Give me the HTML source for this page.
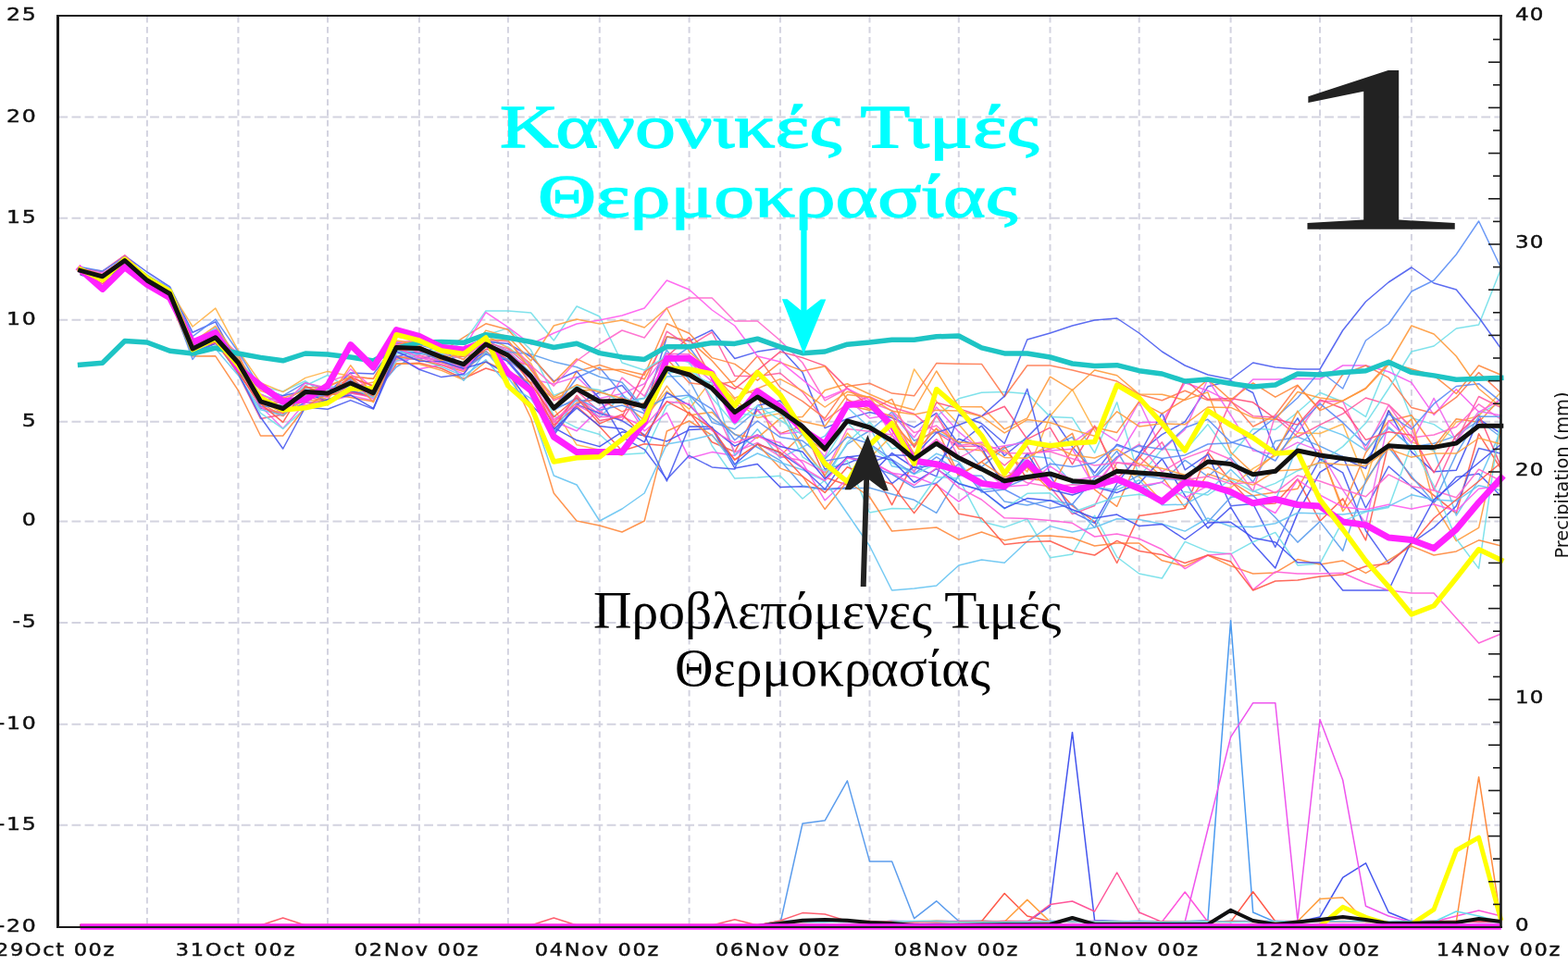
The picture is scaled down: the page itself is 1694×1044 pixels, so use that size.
<!DOCTYPE html>
<html><head><meta charset="utf-8"><title>GEFS ensemble</title>
<style>html,body{margin:0;padding:0;background:#fff;overflow:hidden}svg{display:block}</style>
</head><body>
<svg width="1694" height="1044" viewBox="0 0 1694 1044">
<rect width="1694" height="1044" fill="#fff"/>
<line x1="63.4" y1="126.6" x2="1620" y2="126.6" stroke="#d3d3e0" stroke-width="2" stroke-dasharray="9.8 4.3"/>
<line x1="63.4" y1="235.8" x2="1620" y2="235.8" stroke="#d3d3e0" stroke-width="2" stroke-dasharray="9.8 4.3"/>
<line x1="63.4" y1="345.7" x2="1620" y2="345.7" stroke="#d3d3e0" stroke-width="2" stroke-dasharray="9.8 4.3"/>
<line x1="63.4" y1="455.7" x2="1620" y2="455.7" stroke="#d3d3e0" stroke-width="2" stroke-dasharray="9.8 4.3"/>
<line x1="63.4" y1="563.4" x2="1620" y2="563.4" stroke="#d3d3e0" stroke-width="2" stroke-dasharray="9.8 4.3"/>
<line x1="63.4" y1="672.9" x2="1620" y2="672.9" stroke="#d3d3e0" stroke-width="2" stroke-dasharray="9.8 4.3"/>
<line x1="63.4" y1="782.8" x2="1620" y2="782.8" stroke="#d3d3e0" stroke-width="2" stroke-dasharray="9.8 4.3"/>
<line x1="63.4" y1="891.7" x2="1620" y2="891.7" stroke="#d3d3e0" stroke-width="2" stroke-dasharray="9.8 4.3"/>
<line x1="158.9" y1="17.7" x2="158.9" y2="1001" stroke="#d3d3e0" stroke-width="2" stroke-dasharray="6.8 4.4"/>
<line x1="257.4" y1="17.7" x2="257.4" y2="1001" stroke="#d3d3e0" stroke-width="2" stroke-dasharray="6.8 4.4"/>
<line x1="354.0" y1="17.7" x2="354.0" y2="1001" stroke="#d3d3e0" stroke-width="2" stroke-dasharray="6.8 4.4"/>
<line x1="452.9" y1="17.7" x2="452.9" y2="1001" stroke="#d3d3e0" stroke-width="2" stroke-dasharray="6.8 4.4"/>
<line x1="548.9" y1="17.7" x2="548.9" y2="1001" stroke="#d3d3e0" stroke-width="2" stroke-dasharray="6.8 4.4"/>
<line x1="647.8" y1="17.7" x2="647.8" y2="1001" stroke="#d3d3e0" stroke-width="2" stroke-dasharray="6.8 4.4"/>
<line x1="744.6" y1="17.7" x2="744.6" y2="1001" stroke="#d3d3e0" stroke-width="2" stroke-dasharray="6.8 4.4"/>
<line x1="842.9" y1="17.7" x2="842.9" y2="1001" stroke="#d3d3e0" stroke-width="2" stroke-dasharray="6.8 4.4"/>
<line x1="939.5" y1="17.7" x2="939.5" y2="1001" stroke="#d3d3e0" stroke-width="2" stroke-dasharray="6.8 4.4"/>
<line x1="1035.8" y1="17.7" x2="1035.8" y2="1001" stroke="#d3d3e0" stroke-width="2" stroke-dasharray="6.8 4.4"/>
<line x1="1134.5" y1="17.7" x2="1134.5" y2="1001" stroke="#d3d3e0" stroke-width="2" stroke-dasharray="6.8 4.4"/>
<line x1="1230.7" y1="17.7" x2="1230.7" y2="1001" stroke="#d3d3e0" stroke-width="2" stroke-dasharray="6.8 4.4"/>
<line x1="1329.6" y1="17.7" x2="1329.6" y2="1001" stroke="#d3d3e0" stroke-width="2" stroke-dasharray="6.8 4.4"/>
<line x1="1426.0" y1="17.7" x2="1426.0" y2="1001" stroke="#d3d3e0" stroke-width="2" stroke-dasharray="6.8 4.4"/>
<line x1="1524.9" y1="17.7" x2="1524.9" y2="1001" stroke="#d3d3e0" stroke-width="2" stroke-dasharray="6.8 4.4"/>
<polyline points="86.6,289.7 110.7,293.4 134.8,276.4 158.9,294.0 183.5,309.9 208.1,359.3 232.8,347.9 257.4,393.5 281.5,441.0 305.7,446.5 329.9,435.3 354.0,434.7 378.7,425.0 403.4,427.7 428.2,385.5 452.9,379.0 476.9,384.3 500.9,396.5 524.9,382.3 548.9,390.1 573.6,417.9 598.3,467.4 623.1,437.3 647.8,424.0 672.0,416.5 696.2,444.6 720.4,364.0 744.6,368.6 769.2,356.8 793.8,387.5 818.3,380.1 842.9,376.3 867.0,402.6 891.2,462.6 915.4,452.5 939.5,445.6 963.6,451.5 987.6,461.9 1011.7,446.5 1035.8,480.0 1060.5,460.2 1085.2,492.5 1109.8,472.4 1134.5,447.5 1158.5,482.9 1182.6,511.0 1206.7,480.2 1230.7,489.1 1255.4,469.6 1280.2,455.9 1304.9,417.8 1329.6,411.5 1353.7,424.5 1377.8,487.4 1401.9,451.8 1426.0,496.4 1450.7,493.3 1475.5,549.0 1500.2,504.0 1524.9,525.8 1549.1,543.2 1573.3,515.4 1597.6,511.9 1621.8,536.5" fill="none" stroke="#4a5cf0" stroke-width="1.5" stroke-linejoin="round" stroke-linecap="butt" stroke-opacity="0.9"/>
<polyline points="86.6,294.0 110.7,298.7 134.8,280.5 158.9,302.9 183.5,319.6 208.1,377.8 232.8,366.9 257.4,392.7 281.5,429.1 305.7,443.4 329.9,420.9 354.0,425.5 378.7,424.8 403.4,425.9 428.2,396.6 452.9,381.7 476.9,386.9 500.9,395.6 524.9,368.2 548.9,379.1 573.6,403.4 598.3,441.0 623.1,433.1 647.8,432.7 672.0,434.2 696.2,430.2 720.4,378.4 744.6,410.5 769.2,456.6 793.8,463.8 818.3,443.0 842.9,439.6 867.0,482.5 891.2,514.4 915.4,479.8 939.5,465.5 963.6,445.2 987.6,476.3 1011.7,466.7 1035.8,478.0 1060.5,504.7 1085.2,484.2 1109.8,475.0 1134.5,483.4 1158.5,472.4 1182.6,515.2 1206.7,487.5 1230.7,527.4 1255.4,521.0 1280.2,497.4 1304.9,515.0 1329.6,494.3 1353.7,521.0 1377.8,476.7 1401.9,472.1 1426.0,482.1 1450.7,493.7 1475.5,498.3 1500.2,462.4 1524.9,483.1 1549.1,479.2 1573.3,471.1 1597.6,454.5 1621.8,472.5" fill="none" stroke="#5c9ded" stroke-width="1.5" stroke-linejoin="round" stroke-linecap="butt" stroke-opacity="0.9"/>
<polyline points="86.6,291.7 110.7,296.3 134.8,281.7 158.9,304.0 183.5,318.8 208.1,371.7 232.8,361.7 257.4,387.5 281.5,417.8 305.7,423.0 329.9,411.8 354.0,428.4 378.7,415.1 403.4,418.4 428.2,374.6 452.9,368.3 476.9,376.6 500.9,379.5 524.9,366.8 548.9,374.9 573.6,395.4 598.3,449.6 623.1,462.3 647.8,469.5 672.0,491.2 696.2,489.8 720.4,438.4 744.6,428.1 769.2,481.7 793.8,517.1 818.3,516.0 842.9,514.3 867.0,539.0 891.2,519.0 915.4,478.3 939.5,456.1 963.6,484.9 987.6,480.2 1011.7,450.2 1035.8,430.8 1060.5,424.3 1085.2,423.6 1109.8,425.5 1134.5,450.4 1158.5,451.5 1182.6,489.4 1206.7,434.8 1230.7,515.6 1255.4,485.3 1280.2,487.2 1304.9,458.6 1329.6,492.7 1353.7,463.5 1377.8,464.2 1401.9,445.5 1426.0,424.3 1450.7,434.2 1475.5,450.4 1500.2,390.0 1524.9,451.7 1549.1,458.6 1573.3,475.0 1597.6,447.2 1621.8,434.9" fill="none" stroke="#72dfe9" stroke-width="1.5" stroke-linejoin="round" stroke-linecap="butt" stroke-opacity="0.9"/>
<polyline points="86.6,294.2 110.7,303.7 134.8,283.0 158.9,303.0 183.5,316.3 208.1,377.1 232.8,358.8 257.4,391.1 281.5,435.2 305.7,440.3 329.9,427.9 354.0,427.3 378.7,422.6 403.4,427.2 428.2,388.3 452.9,384.1 476.9,391.9 500.9,399.0 524.9,373.6 548.9,389.4 573.6,395.0 598.3,441.9 623.1,401.4 647.8,394.5 672.0,402.1 696.2,409.8 720.4,363.8 744.6,367.7 769.2,389.8 793.8,417.4 818.3,426.8 842.9,492.8 867.0,469.2 891.2,488.0 915.4,437.8 939.5,443.4 963.6,431.4 987.6,483.5 1011.7,449.4 1035.8,485.2 1060.5,486.8 1085.2,522.5 1109.8,491.5 1134.5,485.3 1158.5,468.4 1182.6,529.1 1206.7,547.3 1230.7,493.6 1255.4,515.1 1280.2,548.6 1304.9,512.1 1329.6,520.4 1353.7,535.7 1377.8,532.0 1401.9,528.2 1426.0,485.8 1450.7,549.0 1475.5,489.2 1500.2,455.0 1524.9,448.7 1549.1,483.3 1573.3,452.8 1597.6,456.2 1621.8,429.9" fill="none" stroke="#ff8a3d" stroke-width="1.5" stroke-linejoin="round" stroke-linecap="butt" stroke-opacity="0.9"/>
<polyline points="86.6,290.4 110.7,296.9 134.8,280.8 158.9,304.0 183.5,313.6 208.1,353.0 232.8,333.1 257.4,378.9 281.5,413.8 305.7,423.6 329.9,408.4 354.0,401.4 378.7,406.6 403.4,409.4 428.2,364.1 452.9,367.7 476.9,368.4 500.9,371.9 524.9,362.2 548.9,376.1 573.6,392.6 598.3,441.4 623.1,480.8 647.8,486.2 672.0,492.2 696.2,451.5 720.4,422.9 744.6,442.1 769.2,410.3 793.8,431.8 818.3,451.5 842.9,446.8 867.0,484.1 891.2,513.6 915.4,468.1 939.5,495.1 963.6,470.6 987.6,398.9 1011.7,433.7 1035.8,458.4 1060.5,487.4 1085.2,486.9 1109.8,509.9 1134.5,449.7 1158.5,421.0 1182.6,465.3 1206.7,507.3 1230.7,515.1 1255.4,542.0 1280.2,515.1 1304.9,525.6 1329.6,527.3 1353.7,506.4 1377.8,492.4 1401.9,467.7 1426.0,468.5 1450.7,458.2 1475.5,519.6 1500.2,443.4 1524.9,477.4 1549.1,487.5 1573.3,456.1 1597.6,449.5 1621.8,423.4" fill="none" stroke="#ffb347" stroke-width="1.5" stroke-linejoin="round" stroke-linecap="butt" stroke-opacity="0.9"/>
<polyline points="86.6,293.7 110.7,306.6 134.8,288.0 158.9,306.2 183.5,320.7 208.1,379.3 232.8,368.7 257.4,401.0 281.5,439.8 305.7,449.6 329.9,426.4 354.0,424.7 378.7,407.5 403.4,428.1 428.2,393.6 452.9,392.2 476.9,398.2 500.9,409.1 524.9,398.0 548.9,405.3 573.6,418.0 598.3,459.2 623.1,439.3 647.8,460.9 672.0,487.3 696.2,479.7 720.4,481.8 744.6,445.5 769.2,477.8 793.8,488.3 818.3,443.0 842.9,468.6 867.0,460.1 891.2,515.7 915.4,524.2 939.5,501.3 963.6,545.7 987.6,498.5 1011.7,474.7 1035.8,514.3 1060.5,498.9 1085.2,482.4 1109.8,517.6 1134.5,519.7 1158.5,546.7 1182.6,564.0 1206.7,608.5 1230.7,557.4 1255.4,554.0 1280.2,549.5 1304.9,488.8 1329.6,520.1 1353.7,545.5 1377.8,544.0 1401.9,517.8 1426.0,563.2 1450.7,538.9 1475.5,583.9 1500.2,479.0 1524.9,516.7 1549.1,535.3 1573.3,554.8 1597.6,468.8 1621.8,507.0" fill="none" stroke="#ff5a4a" stroke-width="1.5" stroke-linejoin="round" stroke-linecap="butt" stroke-opacity="0.9"/>
<polyline points="86.6,290.2 110.7,293.1 134.8,275.9 158.9,299.2 183.5,313.3 208.1,372.0 232.8,360.4 257.4,395.5 281.5,434.3 305.7,435.4 329.9,427.0 354.0,427.5 378.7,411.6 403.4,421.8 428.2,373.7 452.9,379.4 476.9,390.2 500.9,384.3 524.9,369.7 548.9,376.9 573.6,398.0 598.3,432.8 623.1,422.3 647.8,445.0 672.0,454.2 696.2,417.5 720.4,358.2 744.6,374.1 769.2,359.0 793.8,406.3 818.3,406.7 842.9,403.3 867.0,423.6 891.2,454.6 915.4,436.5 939.5,428.8 963.6,440.2 987.6,447.3 1011.7,467.3 1035.8,482.6 1060.5,482.0 1085.2,503.0 1109.8,482.3 1134.5,526.3 1158.5,555.6 1182.6,546.5 1206.7,500.0 1230.7,503.4 1255.4,477.8 1280.2,523.5 1304.9,489.6 1329.6,433.9 1353.7,449.7 1377.8,451.1 1401.9,472.0 1426.0,459.2 1450.7,447.1 1475.5,430.0 1500.2,437.4 1524.9,461.9 1549.1,529.8 1573.3,476.3 1597.6,428.5 1621.8,440.7" fill="none" stroke="#ff5aa0" stroke-width="1.5" stroke-linejoin="round" stroke-linecap="butt" stroke-opacity="0.9"/>
<polyline points="86.6,291.0 110.7,295.1 134.8,281.0 158.9,300.8 183.5,317.5 208.1,373.9 232.8,365.1 257.4,385.7 281.5,426.8 305.7,443.9 329.9,428.4 354.0,427.2 378.7,421.8 403.4,431.0 428.2,384.3 452.9,398.7 476.9,394.3 500.9,404.2 524.9,373.4 548.9,384.3 573.6,396.3 598.3,455.2 623.1,465.8 647.8,441.5 672.0,429.0 696.2,465.8 720.4,446.2 744.6,495.3 769.2,488.6 793.8,492.4 818.3,471.8 842.9,478.5 867.0,500.1 891.2,540.8 915.4,517.7 939.5,497.5 963.6,511.3 987.6,514.9 1011.7,524.2 1035.8,542.1 1060.5,523.8 1085.2,520.4 1109.8,490.5 1134.5,487.1 1158.5,485.3 1182.6,526.7 1206.7,495.7 1230.7,456.7 1255.4,456.1 1280.2,413.7 1304.9,422.2 1329.6,434.4 1353.7,410.0 1377.8,410.0 1401.9,409.3 1426.0,409.5 1450.7,395.0 1475.5,395.0 1500.2,401.7 1524.9,413.4 1549.1,448.4 1573.3,420.7 1597.6,445.3 1621.8,431.5" fill="none" stroke="#f55af0" stroke-width="1.5" stroke-linejoin="round" stroke-linecap="butt" stroke-opacity="0.9"/>
<polyline points="86.6,290.4 110.7,299.9 134.8,285.2 158.9,307.1 183.5,323.5 208.1,380.7 232.8,369.9 257.4,400.7 281.5,430.5 305.7,443.4 329.9,425.0 354.0,433.5 378.7,422.8 403.4,428.8 428.2,386.2 452.9,388.6 476.9,382.3 500.9,395.8 524.9,379.3 548.9,403.0 573.6,437.2 598.3,462.2 623.1,475.8 647.8,482.6 672.0,466.8 696.2,470.8 720.4,476.9 744.6,464.6 769.2,463.2 793.8,506.0 818.3,501.4 842.9,526.6 867.0,525.8 891.2,528.7 915.4,527.1 939.5,514.2 963.6,489.6 987.6,505.5 1011.7,502.8 1035.8,474.3 1060.5,483.8 1085.2,526.3 1109.8,489.8 1134.5,529.1 1158.5,535.0 1182.6,526.3 1206.7,532.4 1230.7,522.4 1255.4,495.9 1280.2,535.7 1304.9,570.9 1329.6,548.2 1353.7,587.4 1377.8,613.9 1401.9,554.9 1426.0,510.4 1450.7,495.1 1475.5,506.4 1500.2,443.9 1524.9,488.4 1549.1,509.8 1573.3,508.3 1597.6,452.9 1621.8,468.7" fill="none" stroke="#3f4ff0" stroke-width="1.5" stroke-linejoin="round" stroke-linecap="butt" stroke-opacity="0.9"/>
<polyline points="86.6,292.4 110.7,298.6 134.8,279.4 158.9,296.8 183.5,312.9 208.1,371.7 232.8,354.2 257.4,386.3 281.5,435.8 305.7,434.0 329.9,418.8 354.0,425.5 378.7,418.0 403.4,421.2 428.2,376.7 452.9,388.3 476.9,396.4 500.9,406.4 524.9,388.9 548.9,416.0 573.6,430.7 598.3,465.8 623.1,430.7 647.8,451.2 672.0,427.1 696.2,442.7 720.4,406.9 744.6,406.3 769.2,413.9 793.8,492.1 818.3,463.8 842.9,495.2 867.0,483.1 891.2,471.2 915.4,440.2 939.5,462.0 963.6,503.8 987.6,508.3 1011.7,490.2 1035.8,499.3 1060.5,529.1 1085.2,527.3 1109.8,492.6 1134.5,495.3 1158.5,522.6 1182.6,526.7 1206.7,529.5 1230.7,518.7 1255.4,545.7 1280.2,545.2 1304.9,531.7 1329.6,507.4 1353.7,530.2 1377.8,540.9 1401.9,481.9 1426.0,461.0 1450.7,470.1 1475.5,486.7 1500.2,461.3 1524.9,483.2 1549.1,486.2 1573.3,557.0 1597.6,519.1 1621.8,465.1" fill="none" stroke="#66c4f2" stroke-width="1.5" stroke-linejoin="round" stroke-linecap="butt" stroke-opacity="0.9"/>
<polyline points="86.6,291.6 110.7,299.4 134.8,283.7 158.9,302.8 183.5,320.2 208.1,378.8 232.8,365.4 257.4,394.9 281.5,433.9 305.7,434.7 329.9,419.1 354.0,418.1 378.7,406.9 403.4,409.2 428.2,369.9 452.9,374.5 476.9,383.9 500.9,385.4 524.9,379.9 548.9,399.8 573.6,425.8 598.3,456.3 623.1,435.2 647.8,430.9 672.0,444.9 696.2,435.3 720.4,387.8 744.6,413.7 769.2,416.8 793.8,411.9 818.3,384.7 842.9,418.9 867.0,433.6 891.2,452.1 915.4,417.6 939.5,414.3 963.6,425.1 987.6,427.8 1011.7,392.6 1035.8,393.2 1060.5,393.4 1085.2,428.7 1109.8,395.0 1134.5,395.0 1158.5,400.0 1182.6,405.9 1206.7,412.1 1230.7,426.3 1255.4,432.7 1280.2,422.2 1304.9,432.6 1329.6,433.1 1353.7,461.0 1377.8,448.8 1401.9,416.8 1426.0,442.4 1450.7,404.7 1475.5,395.0 1500.2,408.2 1524.9,440.6 1549.1,446.8 1573.3,429.4 1597.6,402.6 1621.8,425.0" fill="none" stroke="#ff7a50" stroke-width="1.5" stroke-linejoin="round" stroke-linecap="butt" stroke-opacity="0.9"/>
<polyline points="86.6,291.7 110.7,297.1 134.8,280.0 158.9,301.6 183.5,315.7 208.1,370.1 232.8,359.8 257.4,394.5 281.5,440.2 305.7,446.7 329.9,437.9 354.0,432.9 378.7,424.8 403.4,429.4 428.2,387.0 452.9,383.8 476.9,390.7 500.9,397.3 524.9,372.3 548.9,379.1 573.6,407.5 598.3,456.4 623.1,429.7 647.8,447.8 672.0,408.1 696.2,428.1 720.4,382.2 744.6,382.8 769.2,434.9 793.8,488.9 818.3,478.4 842.9,493.4 867.0,497.7 891.2,510.6 915.4,463.4 939.5,466.2 963.6,469.9 987.6,510.7 1011.7,447.3 1035.8,494.8 1060.5,482.3 1085.2,507.9 1109.8,521.8 1134.5,525.9 1158.5,523.8 1182.6,524.9 1206.7,494.9 1230.7,480.1 1255.4,509.8 1280.2,495.1 1304.9,486.0 1329.6,496.5 1353.7,531.4 1377.8,448.1 1401.9,467.3 1426.0,433.5 1450.7,433.7 1475.5,485.9 1500.2,437.8 1524.9,473.0 1549.1,470.0 1573.3,461.2 1597.6,436.8 1621.8,453.3" fill="none" stroke="#ff66cc" stroke-width="1.5" stroke-linejoin="round" stroke-linecap="butt" stroke-opacity="0.9"/>
<polyline points="86.6,290.7 110.7,296.7 134.8,279.6 158.9,302.3 183.5,319.5 208.1,379.1 232.8,366.9 257.4,397.3 281.5,439.0 305.7,463.0 329.9,435.3 354.0,434.0 378.7,427.6 403.4,433.0 428.2,390.2 452.9,386.3 476.9,389.5 500.9,399.0 524.9,374.0 548.9,382.6 573.6,409.7 598.3,414.9 623.1,407.3 647.8,430.6 672.0,425.4 696.2,414.7 720.4,381.7 744.6,391.5 769.2,412.1 793.8,437.8 818.3,443.6 842.9,468.9 867.0,466.7 891.2,493.5 915.4,431.2 939.5,451.9 963.6,448.1 987.6,472.8 1011.7,440.0 1035.8,466.7 1060.5,486.8 1085.2,481.8 1109.8,478.0 1134.5,485.0 1158.5,478.6 1182.6,461.3 1206.7,476.8 1230.7,434.2 1255.4,486.4 1280.2,464.1 1304.9,410.0 1329.6,448.7 1353.7,487.0 1377.8,491.2 1401.9,478.1 1426.0,487.4 1450.7,529.3 1475.5,565.8 1500.2,454.6 1524.9,478.7 1549.1,430.4 1573.3,476.9 1597.6,444.6 1621.8,449.1" fill="none" stroke="#ee66ee" stroke-width="1.5" stroke-linejoin="round" stroke-linecap="butt" stroke-opacity="0.9"/>
<polyline points="86.6,292.9 110.7,299.7 134.8,284.5 158.9,305.6 183.5,321.9 208.1,381.3 232.8,364.7 257.4,392.6 281.5,433.7 305.7,446.3 329.9,432.2 354.0,434.0 378.7,418.5 403.4,412.9 428.2,392.7 452.9,393.5 476.9,400.4 500.9,410.5 524.9,391.0 548.9,402.0 573.6,413.2 598.3,430.7 623.1,421.7 647.8,421.8 672.0,434.4 696.2,454.4 720.4,417.1 744.6,448.8 769.2,445.4 793.8,469.8 818.3,473.4 842.9,452.1 867.0,450.4 891.2,421.7 915.4,414.7 939.5,426.0 963.6,436.5 987.6,443.0 1011.7,401.0 1035.8,439.5 1060.5,439.7 1085.2,463.9 1109.8,451.9 1134.5,407.2 1158.5,421.7 1182.6,400.0 1206.7,405.7 1230.7,426.1 1255.4,426.3 1280.2,432.4 1304.9,423.9 1329.6,488.7 1353.7,511.3 1377.8,490.4 1401.9,444.1 1426.0,484.4 1450.7,552.6 1475.5,521.7 1500.2,478.4 1524.9,452.8 1549.1,544.1 1573.3,584.6 1597.6,570.4 1621.8,461.6" fill="none" stroke="#ff9a3c" stroke-width="1.5" stroke-linejoin="round" stroke-linecap="butt" stroke-opacity="0.9"/>
<polyline points="86.6,288.4 110.7,292.9 134.8,277.8 158.9,297.8 183.5,310.7 208.1,363.6 232.8,345.1 257.4,380.4 281.5,419.3 305.7,427.7 329.9,413.6 354.0,420.8 378.7,414.0 403.4,422.1 428.2,371.2 452.9,372.6 476.9,379.6 500.9,383.1 524.9,371.4 548.9,382.8 573.6,403.8 598.3,442.5 623.1,408.3 647.8,397.2 672.0,425.7 696.2,461.7 720.4,391.6 744.6,375.2 769.2,408.1 793.8,444.5 818.3,428.3 842.9,446.5 867.0,462.7 891.2,498.2 915.4,493.8 939.5,503.8 963.6,512.5 987.6,526.8 1011.7,522.1 1035.8,501.1 1060.5,532.0 1085.2,529.0 1109.8,541.8 1134.5,549.4 1158.5,545.1 1182.6,516.6 1206.7,493.6 1230.7,481.7 1255.4,485.4 1280.2,462.3 1304.9,453.2 1329.6,477.7 1353.7,484.8 1377.8,498.0 1401.9,460.0 1426.0,436.2 1450.7,456.7 1475.5,481.4 1500.2,447.5 1524.9,464.0 1549.1,436.4 1573.3,417.5 1597.6,414.7 1621.8,434.4" fill="none" stroke="#5a8af5" stroke-width="1.5" stroke-linejoin="round" stroke-linecap="butt" stroke-opacity="0.9"/>
<polyline points="86.6,291.1 110.7,298.2 134.8,280.7 158.9,306.7 183.5,322.9 208.1,379.8 232.8,367.5 257.4,404.5 281.5,452.5 305.7,447.9 329.9,429.1 354.0,433.6 378.7,423.9 403.4,428.8 428.2,373.9 452.9,381.3 476.9,388.9 500.9,395.7 524.9,371.0 548.9,389.2 573.6,407.8 598.3,462.0 623.1,427.2 647.8,454.6 672.0,450.5 696.2,401.8 720.4,385.3 744.6,364.5 769.2,408.7 793.8,420.3 818.3,400.3 842.9,380.1 867.0,386.6 891.2,395.4 915.4,419.6 939.5,439.0 963.6,455.0 987.6,482.7 1011.7,435.1 1035.8,441.6 1060.5,449.6 1085.2,439.3 1109.8,474.6 1134.5,462.1 1158.5,501.9 1182.6,460.1 1206.7,517.0 1230.7,495.2 1255.4,461.5 1280.2,410.0 1304.9,431.6 1329.6,430.4 1353.7,434.8 1377.8,452.7 1401.9,459.1 1426.0,431.9 1450.7,441.5 1475.5,475.4 1500.2,466.7 1524.9,470.2 1549.1,510.9 1573.3,470.4 1597.6,448.0 1621.8,504.6" fill="none" stroke="#ff4f7a" stroke-width="1.5" stroke-linejoin="round" stroke-linecap="butt" stroke-opacity="0.9"/>
<polyline points="86.6,291.8 110.7,297.8 134.8,282.3 158.9,303.8 183.5,321.6 208.1,379.9 232.8,367.8 257.4,393.4 281.5,435.1 305.7,427.8 329.9,422.3 354.0,424.4 378.7,402.9 403.4,404.1 428.2,371.0 452.9,373.8 476.9,386.1 500.9,393.9 524.9,369.2 548.9,371.5 573.6,385.5 598.3,412.0 623.1,401.3 647.8,431.0 672.0,472.3 696.2,485.8 720.4,518.1 744.6,492.3 769.2,504.9 793.8,507.1 818.3,438.2 842.9,433.1 867.0,458.5 891.2,507.1 915.4,501.0 939.5,490.5 963.6,522.6 987.6,504.3 1011.7,514.9 1035.8,448.3 1060.5,457.8 1085.2,479.2 1109.8,420.4 1134.5,514.2 1158.5,553.3 1182.6,565.3 1206.7,522.4 1230.7,491.5 1255.4,446.3 1280.2,507.8 1304.9,491.1 1329.6,546.8 1353.7,544.4 1377.8,591.3 1401.9,539.2 1426.0,496.4 1450.7,510.9 1475.5,573.5 1500.2,608.6 1524.9,587.1 1549.1,570.1 1573.3,546.9 1597.6,484.5 1621.8,490.2" fill="none" stroke="#4a5cf0" stroke-width="1.5" stroke-linejoin="round" stroke-linecap="butt" stroke-opacity="0.9"/>
<polyline points="86.6,292.2 110.7,299.3 134.8,281.9 158.9,303.5 183.5,319.0 208.1,377.9 232.8,366.0 257.4,394.5 281.5,435.3 305.7,438.2 329.9,422.8 354.0,432.3 378.7,422.3 403.4,419.6 428.2,369.7 452.9,380.0 476.9,389.6 500.9,394.9 524.9,374.9 548.9,380.3 573.6,382.8 598.3,390.9 623.1,396.7 647.8,407.3 672.0,413.2 696.2,442.0 720.4,429.5 744.6,427.1 769.2,451.8 793.8,469.1 818.3,483.5 842.9,497.6 867.0,525.0 891.2,529.1 915.4,528.1 939.5,527.2 963.6,534.0 987.6,540.3 1011.7,554.4 1035.8,513.5 1060.5,514.3 1085.2,542.0 1109.8,546.1 1134.5,540.8 1158.5,544.8 1182.6,570.3 1206.7,526.4 1230.7,513.6 1255.4,517.2 1280.2,519.2 1304.9,564.3 1329.6,537.2 1353.7,535.4 1377.8,559.3 1401.9,586.1 1426.0,563.6 1450.7,595.3 1475.5,519.2 1500.2,483.5 1524.9,514.8 1549.1,542.9 1573.3,490.9 1597.6,450.1 1621.8,450.3" fill="none" stroke="#5c9ded" stroke-width="1.5" stroke-linejoin="round" stroke-linecap="butt" stroke-opacity="0.9"/>
<polyline points="86.6,293.5 110.7,299.2 134.8,280.3 158.9,302.2 183.5,318.9 208.1,379.7 232.8,369.2 257.4,403.8 281.5,446.4 305.7,463.4 329.9,440.8 354.0,433.0 378.7,418.2 403.4,429.7 428.2,390.1 452.9,382.3 476.9,381.9 500.9,387.9 524.9,362.1 548.9,354.6 573.6,378.3 598.3,427.4 623.1,417.5 647.8,421.5 672.0,435.5 696.2,430.8 720.4,403.3 744.6,400.0 769.2,416.9 793.8,446.8 818.3,449.0 842.9,443.3 867.0,493.8 891.2,508.9 915.4,497.7 939.5,554.1 963.6,549.5 987.6,550.0 1011.7,515.5 1035.8,517.1 1060.5,563.7 1085.2,569.9 1109.8,561.0 1134.5,602.7 1158.5,599.0 1182.6,557.2 1206.7,602.0 1230.7,620.0 1255.4,625.0 1280.2,585.4 1304.9,595.9 1329.6,598.8 1353.7,585.7 1377.8,575.4 1401.9,610.9 1426.0,609.1 1450.7,563.1 1475.5,553.2 1500.2,548.6 1524.9,480.6 1549.1,525.0 1573.3,582.2 1597.6,614.4 1621.8,448.1" fill="none" stroke="#72dfe9" stroke-width="1.5" stroke-linejoin="round" stroke-linecap="butt" stroke-opacity="0.9"/>
<polyline points="86.6,293.4 110.7,298.7 134.8,285.4 158.9,304.1 183.5,318.7 208.1,379.1 232.8,367.1 257.4,396.6 281.5,435.8 305.7,449.3 329.9,427.0 354.0,428.4 378.7,418.4 403.4,422.6 428.2,372.6 452.9,367.6 476.9,380.1 500.9,364.6 524.9,349.8 548.9,356.2 573.6,384.1 598.3,413.2 623.1,387.9 647.8,399.6 672.0,399.6 696.2,405.2 720.4,349.7 744.6,360.3 769.2,386.6 793.8,393.4 818.3,411.2 842.9,391.6 867.0,400.9 891.2,395.8 915.4,432.0 939.5,442.0 963.6,449.9 987.6,490.4 1011.7,462.7 1035.8,513.1 1060.5,499.3 1085.2,516.0 1109.8,505.2 1134.5,529.8 1158.5,485.1 1182.6,461.7 1206.7,467.4 1230.7,433.9 1255.4,447.1 1280.2,431.6 1304.9,410.1 1329.6,432.2 1353.7,413.9 1377.8,429.2 1401.9,416.2 1426.0,443.6 1450.7,433.1 1475.5,419.5 1500.2,392.0 1524.9,398.7 1549.1,405.8 1573.3,425.5 1597.6,395.0 1621.8,405.3" fill="none" stroke="#ff8a3d" stroke-width="1.5" stroke-linejoin="round" stroke-linecap="butt" stroke-opacity="0.9"/>
<polyline points="86.6,292.0 110.7,298.1 134.8,280.5 158.9,301.6 183.5,315.8 208.1,381.1 232.8,363.1 257.4,389.7 281.5,426.1 305.7,434.8 329.9,416.8 354.0,405.5 378.7,420.9 403.4,424.2 428.2,382.8 452.9,378.2 476.9,380.0 500.9,370.0 524.9,336.0 548.9,336.0 573.6,338.0 598.3,368.0 623.1,331.0 647.8,342.0 672.0,392.0 696.2,400.0 720.4,384.6 744.6,391.8 769.2,430.0 793.8,458.7 818.3,438.4 842.9,454.1 867.0,470.0 891.2,495.7 915.4,456.7 939.5,480.8 963.6,500.0 987.6,512.6 1011.7,501.5 1035.8,522.2 1060.5,530.0 1085.2,549.9 1109.8,533.3 1134.5,532.8 1158.5,553.7 1182.6,545.0 1206.7,537.0 1230.7,534.3 1255.4,539.7 1280.2,531.4 1304.9,535.0 1329.6,518.4 1353.7,531.3 1377.8,522.4 1401.9,508.7 1426.0,500.0 1450.7,482.6 1475.5,457.3 1500.2,420.0 1524.9,380.0 1549.1,374.0 1573.3,355.0 1597.6,351.0 1621.8,290.0" fill="none" stroke="#72dfe9" stroke-width="1.5" stroke-linejoin="round" stroke-linecap="butt" stroke-opacity="0.9"/>
<polyline points="86.6,290.0 110.7,296.3 134.8,278.7 158.9,300.0 183.5,314.3 208.1,372.3 232.8,360.8 257.4,381.9 281.5,435.9 305.7,440.2 329.9,423.0 354.0,429.9 378.7,398.9 403.4,419.4 428.2,370.0 452.9,367.9 476.9,372.4 500.9,376.2 524.9,337.6 548.9,353.6 573.6,372.0 598.3,360.0 623.1,350.0 647.8,346.0 672.0,341.0 696.2,333.0 720.4,303.0 744.6,313.0 769.2,335.0 793.8,352.0 818.3,385.0 842.9,390.9 867.0,410.4 891.2,430.0 915.4,419.9 939.5,432.0 963.6,470.0 987.6,495.1 1011.7,474.9 1035.8,493.2 1060.5,505.0 1085.2,526.1 1109.8,524.3 1134.5,503.9 1158.5,519.6 1182.6,515.0 1206.7,514.1 1230.7,525.3 1255.4,521.3 1280.2,538.2 1304.9,525.0 1329.6,529.8 1353.7,541.6 1377.8,554.5 1401.9,518.4 1426.0,535.0 1450.7,547.9 1475.5,550.7 1500.2,545.3 1524.9,550.1 1549.1,545.0 1573.3,552.3 1597.6,528.3 1621.8,525.0" fill="none" stroke="#ff5cf0" stroke-width="1.5" stroke-linejoin="round" stroke-linecap="butt" stroke-opacity="0.9"/>
<polyline points="86.6,293.0 110.7,299.2 134.8,281.6 158.9,302.8 183.5,317.0 208.1,368.6 232.8,361.6 257.4,392.1 281.5,433.1 305.7,429.0 329.9,434.9 354.0,412.7 378.7,404.1 403.4,424.1 428.2,372.0 452.9,380.7 476.9,380.9 500.9,388.2 524.9,367.4 548.9,369.1 573.6,395.0 598.3,417.1 623.1,390.0 647.8,372.0 672.0,357.0 696.2,365.0 720.4,333.0 744.6,322.0 769.2,322.0 793.8,347.0 818.3,347.0 842.9,368.0 867.0,392.0 891.2,432.9 915.4,420.0 939.5,434.8 963.6,443.6 987.6,467.6 1011.7,460.0 1035.8,481.6 1060.5,478.0 1085.2,489.5 1109.8,490.0 1134.5,488.0 1158.5,495.7 1182.6,503.0 1206.7,500.0 1230.7,501.3 1255.4,516.0 1280.2,518.4 1304.9,515.0 1329.6,522.9 1353.7,521.3 1377.8,532.7 1401.9,513.9 1426.0,520.0 1450.7,528.7 1475.5,536.8 1500.2,512.9 1524.9,525.4 1549.1,530.0 1573.3,537.7 1597.6,507.2 1621.8,520.0" fill="none" stroke="#ff66cc" stroke-width="1.5" stroke-linejoin="round" stroke-linecap="butt" stroke-opacity="0.9"/>
<polyline points="86.6,291.0 110.7,297.1 134.8,279.3 158.9,300.4 183.5,314.4 208.1,369.8 232.8,352.4 257.4,387.4 281.5,422.4 305.7,430.1 329.9,422.2 354.0,432.3 378.7,394.8 403.4,427.5 428.2,368.0 452.9,371.4 476.9,377.4 500.9,388.9 524.9,357.1 548.9,363.8 573.6,390.0 598.3,352.0 623.1,345.0 647.8,350.0 672.0,346.0 696.2,354.0 720.4,333.0 744.6,380.0 769.2,402.0 793.8,430.3 818.3,420.0 842.9,409.6 867.0,422.4 891.2,440.0 915.4,423.3 939.5,429.4 963.6,460.0 987.6,480.2 1011.7,463.6 1035.8,477.8 1060.5,480.0 1085.2,494.4 1109.8,495.2 1134.5,480.2 1158.5,491.7 1182.6,495.0 1206.7,485.4 1230.7,501.8 1255.4,506.3 1280.2,513.2 1304.9,505.0 1329.6,517.0 1353.7,524.1 1377.8,508.9 1401.9,507.6 1426.0,500.0 1450.7,502.2 1475.5,503.4 1500.2,485.3 1524.9,494.1 1549.1,490.0 1573.3,490.1 1597.6,473.5 1621.8,480.0" fill="none" stroke="#ffa040" stroke-width="1.5" stroke-linejoin="round" stroke-linecap="butt" stroke-opacity="0.9"/>
<polyline points="86.6,296.0 110.7,303.4 134.8,286.9 158.9,309.3 183.5,324.6 208.1,385.0 232.8,384.8 257.4,422.0 281.5,471.0 305.7,471.0 329.9,440.0 354.0,424.9 378.7,429.5 403.4,434.0 428.2,385.0 452.9,389.0 476.9,394.6 500.9,401.5 524.9,380.5 548.9,400.0 573.6,452.0 598.3,533.0 623.1,563.0 647.8,568.0 672.0,575.0 696.2,563.0 720.4,466.0 744.6,455.0 769.2,470.5 793.8,496.5 818.3,480.0 842.9,506.1 867.0,514.6 891.2,550.3 915.4,520.0 939.5,537.0 963.6,574.0 987.6,572.0 1011.7,570.0 1035.8,583.1 1060.5,575.0 1085.2,583.9 1109.8,579.6 1134.5,579.0 1158.5,581.3 1182.6,590.0 1206.7,586.9 1230.7,587.1 1255.4,605.8 1280.2,611.9 1304.9,600.0 1329.6,611.6 1353.7,620.0 1377.8,618.9 1401.9,604.6 1426.0,610.0 1450.7,605.9 1475.5,619.4 1500.2,605.3 1524.9,590.1 1549.1,600.0 1573.3,595.9 1597.6,583.8 1621.8,590.0" fill="none" stroke="#ff8a3d" stroke-width="1.5" stroke-linejoin="round" stroke-linecap="butt" stroke-opacity="0.9"/>
<polyline points="86.6,294.0 110.7,300.7 134.8,283.6 158.9,305.3 183.5,320.0 208.1,383.3 232.8,376.7 257.4,405.7 281.5,442.8 305.7,448.8 329.9,427.9 354.0,417.6 378.7,420.4 403.4,421.7 428.2,380.0 452.9,382.4 476.9,382.6 500.9,411.3 524.9,380.0 548.9,407.8 573.6,442.0 598.3,514.0 623.1,524.0 647.8,563.0 672.0,550.0 696.2,533.0 720.4,480.0 744.6,475.8 769.2,470.0 793.8,502.6 818.3,490.0 842.9,499.8 867.0,507.7 891.2,520.0 915.4,555.0 939.5,590.0 963.6,638.0 987.6,636.0 1011.7,633.0 1035.8,611.0 1060.5,605.0 1085.2,608.2 1109.8,585.0 1134.5,568.6 1158.5,575.0 1182.6,570.0 1206.7,560.7 1230.7,561.6 1255.4,566.2 1280.2,574.1 1304.9,560.0 1329.6,569.0 1353.7,569.4 1377.8,565.7 1401.9,554.3 1426.0,555.0 1450.7,556.0 1475.5,552.4 1500.2,547.2 1524.9,534.8 1549.1,540.0 1573.3,541.5 1597.6,524.7 1621.8,530.0" fill="none" stroke="#66c4f2" stroke-width="1.5" stroke-linejoin="round" stroke-linecap="butt" stroke-opacity="0.9"/>
<polyline points="86.6,296.0 110.7,301.1 134.8,282.4 158.9,302.4 183.5,315.5 208.1,372.5 232.8,360.0 257.4,403.3 281.5,450.7 305.7,485.0 329.9,440.0 354.0,442.2 378.7,432.6 403.4,442.1 428.2,385.0 452.9,399.3 476.9,407.6 500.9,404.3 524.9,372.1 548.9,391.5 573.6,420.0 598.3,470.3 623.1,437.3 647.8,446.6 672.0,454.7 696.2,470.0 720.4,520.0 744.6,461.0 769.2,461.4 793.8,501.9 818.3,480.0 842.9,489.3 867.0,505.6 891.2,528.8 915.4,493.4 939.5,500.0 963.6,491.8 987.6,492.4 1011.7,467.7 1035.8,459.2 1060.5,450.0 1085.2,428.1 1109.8,367.0 1134.5,360.0 1158.5,352.0 1182.6,346.0 1206.7,344.0 1230.7,360.0 1255.4,380.0 1280.2,395.0 1304.9,405.0 1329.6,410.0 1353.7,392.0 1377.8,397.0 1401.9,399.0 1426.0,399.0 1450.7,357.0 1475.5,326.0 1500.2,305.0 1524.9,289.0 1549.1,306.0 1573.3,313.0 1597.6,343.0 1621.8,377.0" fill="none" stroke="#4a5cf0" stroke-width="1.5" stroke-linejoin="round" stroke-linecap="butt" stroke-opacity="0.9"/>
<polyline points="86.6,295.0 110.7,301.5 134.8,284.2 158.9,305.7 183.5,320.1 208.1,388.4 232.8,356.4 257.4,390.0 281.5,438.9 305.7,439.9 329.9,429.1 354.0,427.2 378.7,409.8 403.4,425.9 428.2,378.0 452.9,382.3 476.9,373.4 500.9,399.0 524.9,383.0 548.9,388.1 573.6,410.0 598.3,443.4 623.1,430.2 647.8,443.2 672.0,438.0 696.2,446.8 720.4,401.0 744.6,426.8 769.2,442.2 793.8,475.7 818.3,455.0 842.9,472.6 867.0,476.3 891.2,496.0 915.4,472.2 939.5,479.5 963.6,496.7 987.6,512.1 1011.7,493.9 1035.8,509.4 1060.5,520.0 1085.2,527.1 1109.8,516.7 1134.5,501.3 1158.5,504.6 1182.6,500.0 1206.7,481.6 1230.7,488.9 1255.4,495.4 1280.2,491.9 1304.9,480.0 1329.6,478.7 1353.7,469.7 1377.8,451.4 1401.9,430.0 1426.0,401.0 1450.7,420.0 1475.5,368.0 1500.2,350.0 1524.9,315.0 1549.1,303.0 1573.3,275.0 1597.6,239.0 1621.8,290.0" fill="none" stroke="#5c8ff5" stroke-width="1.5" stroke-linejoin="round" stroke-linecap="butt" stroke-opacity="0.9"/>
<polyline points="86.6,290.0 110.7,296.6 134.8,279.5 158.9,301.1 183.5,315.7 208.1,374.7 232.8,371.4 257.4,383.4 281.5,432.1 305.7,443.3 329.9,423.5 354.0,417.0 378.7,407.6 403.4,434.7 428.2,375.0 452.9,373.2 476.9,389.8 500.9,379.2 524.9,367.0 548.9,367.8 573.6,400.0 598.3,429.1 623.1,415.8 647.8,424.1 672.0,430.5 696.2,438.3 720.4,396.0 744.6,401.7 769.2,420.6 793.8,444.2 818.3,430.0 842.9,442.7 867.0,455.5 891.2,460.7 915.4,426.6 939.5,429.3 963.6,444.3 987.6,448.0 1011.7,443.3 1035.8,443.9 1060.5,450.0 1085.2,467.9 1109.8,453.6 1134.5,456.7 1158.5,464.4 1182.6,471.2 1206.7,444.8 1230.7,460.9 1255.4,457.8 1280.2,458.7 1304.9,440.0 1329.6,440.4 1353.7,451.4 1377.8,453.5 1401.9,423.5 1426.0,430.0 1450.7,433.2 1475.5,420.0 1500.2,394.0 1524.9,352.0 1549.1,361.0 1573.3,385.0 1597.6,420.0 1621.8,440.0" fill="none" stroke="#ff9a3c" stroke-width="1.5" stroke-linejoin="round" stroke-linecap="butt" stroke-opacity="0.9"/>
<polyline points="86.6,297.0 110.7,303.5 134.8,286.2 158.9,307.7 183.5,322.1 208.1,382.1 232.8,371.2 257.4,391.2 281.5,434.3 305.7,441.8 329.9,440.7 354.0,431.8 378.7,426.9 403.4,441.4 428.2,380.0 452.9,390.3 476.9,390.7 500.9,398.4 524.9,391.1 548.9,404.7 573.6,420.0 598.3,464.0 623.1,441.0 647.8,460.5 672.0,463.6 696.2,477.9 720.4,424.3 744.6,437.8 769.2,462.8 793.8,482.2 818.3,470.0 842.9,482.6 867.0,488.3 891.2,517.6 915.4,494.1 939.5,490.9 963.6,497.4 987.6,521.5 1011.7,506.7 1035.8,522.7 1060.5,530.0 1085.2,549.2 1109.8,538.6 1134.5,540.9 1158.5,550.7 1182.6,560.0 1206.7,556.1 1230.7,568.6 1255.4,566.5 1280.2,583.0 1304.9,565.0 1329.6,564.3 1353.7,581.2 1377.8,586.0 1401.9,608.0 1426.0,608.0 1450.7,638.0 1475.5,638.0 1500.2,638.0 1524.9,585.0 1549.1,540.0 1573.3,520.0 1597.6,500.0 1621.8,480.0" fill="none" stroke="#3f4ff0" stroke-width="1.5" stroke-linejoin="round" stroke-linecap="butt" stroke-opacity="0.9"/>
<polyline points="86.6,294.0 110.7,300.4 134.8,283.0 158.9,304.4 183.5,318.9 208.1,374.9 232.8,370.5 257.4,399.2 281.5,426.0 305.7,437.3 329.9,413.9 354.0,419.3 378.7,420.3 403.4,425.2 428.2,376.0 452.9,386.0 476.9,393.7 500.9,400.0 524.9,372.0 548.9,384.8 573.6,410.0 598.3,453.5 623.1,437.9 647.8,450.6 672.0,450.2 696.2,461.2 720.4,434.1 744.6,436.6 769.2,465.3 793.8,478.6 818.3,470.0 842.9,485.5 867.0,505.2 891.2,519.5 915.4,495.0 939.5,498.9 963.6,511.1 987.6,524.5 1011.7,505.7 1035.8,526.9 1060.5,540.0 1085.2,559.8 1109.8,560.4 1134.5,562.5 1158.5,565.3 1182.6,580.0 1206.7,577.0 1230.7,582.3 1255.4,593.8 1280.2,614.6 1304.9,600.0 1329.6,598.2 1353.7,637.4 1377.8,617.9 1401.9,620.1 1426.0,620.0 1450.7,619.2 1475.5,630.0 1500.2,638.0 1524.9,641.0 1549.1,641.0 1573.3,668.0 1597.6,695.0 1621.8,685.0" fill="none" stroke="#ff5cd8" stroke-width="1.5" stroke-linejoin="round" stroke-linecap="butt" stroke-opacity="0.9"/>
<polyline points="86.6,296.0 110.7,302.4 134.8,285.0 158.9,306.4 183.5,320.9 208.1,377.3 232.8,369.8 257.4,403.0 281.5,436.4 305.7,456.4 329.9,417.2 354.0,428.2 378.7,408.0 403.4,417.0 428.2,378.0 452.9,378.2 476.9,387.3 500.9,393.0 524.9,377.3 548.9,382.0 573.6,415.0 598.3,450.7 623.1,430.0 647.8,457.9 672.0,447.9 696.2,471.8 720.4,433.8 744.6,446.6 769.2,463.2 793.8,497.2 818.3,480.0 842.9,488.8 867.0,514.9 891.2,532.4 915.4,504.8 939.5,515.0 963.6,523.3 987.6,554.6 1011.7,523.1 1035.8,555.2 1060.5,560.0 1085.2,588.4 1109.8,585.7 1134.5,584.7 1158.5,595.2 1182.6,600.0 1206.7,584.4 1230.7,595.5 1255.4,599.5 1280.2,608.5 1304.9,600.0 1329.6,607.0 1353.7,638.0 1377.8,628.0 1401.9,627.0 1426.0,623.0 1450.7,621.0 1475.5,612.0 1500.2,609.0 1524.9,588.0 1549.1,560.0 1573.3,540.0 1597.6,520.0 1621.8,500.0" fill="none" stroke="#ff5a4a" stroke-width="1.5" stroke-linejoin="round" stroke-linecap="butt" stroke-opacity="0.9"/>
<polyline points="86.6,1000.0 110.7,1000.0 134.8,1000.0 158.9,1000.0 183.5,1000.0 208.1,1000.0 232.8,1000.0 257.4,1000.0 281.5,1000.0 305.7,1000.0 329.9,1000.0 354.0,1000.0 378.7,1000.0 403.4,1000.0 428.2,1000.0 452.9,1000.0 476.9,1000.0 500.9,1000.0 524.9,1000.0 548.9,1000.0 573.6,1000.0 598.3,1000.0 623.1,1000.0 647.8,1000.0 672.0,1000.0 696.2,1000.0 720.4,1000.0 744.6,1000.0 769.2,1000.0 793.8,1000.0 818.3,1000.0 842.9,998.0 867.0,890.0 891.2,886.8 915.4,843.9 939.5,930.9 963.6,930.9 987.6,992.6 1011.7,973.8 1035.8,995.5 1060.5,995.6 1085.2,995.7 1109.8,996.5 1134.5,996.5 1158.5,996.0 1182.6,995.6 1206.7,995.8 1230.7,995.7 1255.4,996.2 1280.2,996.3 1304.9,996.3 1329.6,995.9 1353.7,995.9 1377.8,996.0 1401.9,995.8 1426.0,995.9 1450.7,996.2 1475.5,996.3 1500.2,995.8 1524.9,996.1 1549.1,995.6 1573.3,995.5 1597.6,995.9 1621.8,995.8" fill="none" stroke="#5c9ded" stroke-width="1.5" stroke-linejoin="round" stroke-linecap="butt" />
<polyline points="86.6,1000.0 110.7,1000.0 134.8,1000.0 158.9,1000.0 183.5,1000.0 208.1,1000.0 232.8,1000.0 257.4,1000.0 281.5,1000.0 305.7,1000.0 329.9,1000.0 354.0,1000.0 378.7,1000.0 403.4,1000.0 428.2,1000.0 452.9,1000.0 476.9,1000.0 500.9,1000.0 524.9,1000.0 548.9,1000.0 573.6,1000.0 598.3,1000.0 623.1,1000.0 647.8,1000.0 672.0,1000.0 696.2,1000.0 720.4,1000.0 744.6,1000.0 769.2,1000.0 793.8,1000.0 818.3,1000.0 842.9,995.4 867.0,995.5 891.2,995.9 915.4,996.5 939.5,996.4 963.6,995.4 987.6,995.8 1011.7,995.8 1035.8,995.8 1060.5,995.6 1085.2,996.1 1109.8,996.4 1134.5,979.3 1158.5,791.4 1182.6,994.8 1206.7,995.4 1230.7,996.3 1255.4,995.7 1280.2,996.3 1304.9,996.3 1329.6,995.5 1353.7,995.6 1377.8,995.8 1401.9,996.3 1426.0,991.0 1450.7,948.3 1475.5,932.8 1500.2,986.0 1524.9,996.0 1549.1,996.4 1573.3,995.7 1597.6,996.4 1621.8,996.5" fill="none" stroke="#4455ee" stroke-width="1.5" stroke-linejoin="round" stroke-linecap="butt" />
<polyline points="86.6,1000.0 110.7,1000.0 134.8,1000.0 158.9,1000.0 183.5,1000.0 208.1,1000.0 232.8,1000.0 257.4,1000.0 281.5,1000.0 305.7,1000.0 329.9,1000.0 354.0,1000.0 378.7,1000.0 403.4,1000.0 428.2,1000.0 452.9,1000.0 476.9,1000.0 500.9,1000.0 524.9,1000.0 548.9,1000.0 573.6,1000.0 598.3,1000.0 623.1,1000.0 647.8,1000.0 672.0,1000.0 696.2,1000.0 720.4,1000.0 744.6,1000.0 769.2,1000.0 793.8,1000.0 818.3,1000.0 842.9,996.1 867.0,996.6 891.2,996.5 915.4,995.6 939.5,996.6 963.6,995.6 987.6,996.4 1011.7,995.5 1035.8,995.8 1060.5,995.9 1085.2,996.4 1109.8,996.2 1134.5,995.6 1158.5,996.5 1182.6,996.4 1206.7,996.0 1230.7,995.5 1255.4,995.7 1280.2,995.8 1304.9,994.8 1329.6,670.7 1353.7,986.0 1377.8,996.4 1401.9,995.5 1426.0,995.7 1450.7,996.3 1475.5,995.8 1500.2,995.7 1524.9,995.5 1549.1,995.5 1573.3,995.9 1597.6,996.1 1621.8,995.9" fill="none" stroke="#4a9af0" stroke-width="1.5" stroke-linejoin="round" stroke-linecap="butt" />
<polyline points="86.6,1000.0 110.7,1000.0 134.8,1000.0 158.9,1000.0 183.5,1000.0 208.1,1000.0 232.8,1000.0 257.4,1000.0 281.5,1000.0 305.7,1000.0 329.9,1000.0 354.0,1000.0 378.7,1000.0 403.4,1000.0 428.2,1000.0 452.9,1000.0 476.9,1000.0 500.9,1000.0 524.9,1000.0 548.9,1000.0 573.6,1000.0 598.3,1000.0 623.1,1000.0 647.8,1000.0 672.0,1000.0 696.2,1000.0 720.4,1000.0 744.6,1000.0 769.2,1000.0 793.8,1000.0 818.3,1000.0 842.9,996.1 867.0,995.7 891.2,995.4 915.4,996.2 939.5,995.8 963.6,996.0 987.6,995.9 1011.7,995.7 1035.8,995.5 1060.5,995.8 1085.2,995.8 1109.8,995.5 1134.5,995.4 1158.5,996.0 1182.6,995.4 1206.7,996.5 1230.7,995.8 1255.4,995.9 1280.2,996.0 1304.9,896.0 1329.6,796.6 1353.7,759.7 1377.8,759.7 1401.9,994.8 1426.0,777.6 1450.7,843.0 1475.5,979.3 1500.2,990.0 1524.9,996.4 1549.1,996.5 1573.3,996.3 1597.6,996.2 1621.8,996.0" fill="none" stroke="#ee55ee" stroke-width="1.5" stroke-linejoin="round" stroke-linecap="butt" />
<polyline points="86.6,1000.0 110.7,1000.0 134.8,1000.0 158.9,1000.0 183.5,1000.0 208.1,1000.0 232.8,1000.0 257.4,1000.0 281.5,1000.0 305.7,1000.0 329.9,1000.0 354.0,1000.0 378.7,1000.0 403.4,1000.0 428.2,1000.0 452.9,1000.0 476.9,1000.0 500.9,1000.0 524.9,1000.0 548.9,1000.0 573.6,1000.0 598.3,1000.0 623.1,1000.0 647.8,1000.0 672.0,1000.0 696.2,1000.0 720.4,1000.0 744.6,1000.0 769.2,1000.0 793.8,1000.0 818.3,1000.0 842.9,996.0 867.0,996.1 891.2,996.0 915.4,996.4 939.5,996.4 963.6,995.5 987.6,996.3 1011.7,996.1 1035.8,996.1 1060.5,996.5 1085.2,995.5 1109.8,996.0 1134.5,995.9 1158.5,996.5 1182.6,995.6 1206.7,996.1 1230.7,995.6 1255.4,996.3 1280.2,964.0 1304.9,996.3 1329.6,995.8 1353.7,996.5 1377.8,995.4 1401.9,995.7 1426.0,996.3 1450.7,996.5 1475.5,996.3 1500.2,995.7 1524.9,995.5 1549.1,996.3 1573.3,990.0 1597.6,984.0 1621.8,990.0" fill="none" stroke="#ff55dd" stroke-width="1.5" stroke-linejoin="round" stroke-linecap="butt" />
<polyline points="86.6,1000.0 110.7,1000.0 134.8,1000.0 158.9,1000.0 183.5,1000.0 208.1,1000.0 232.8,1000.0 257.4,1000.0 281.5,1000.0 305.7,1000.0 329.9,1000.0 354.0,1000.0 378.7,1000.0 403.4,1000.0 428.2,1000.0 452.9,1000.0 476.9,1000.0 500.9,1000.0 524.9,1000.0 548.9,1000.0 573.6,1000.0 598.3,1000.0 623.1,1000.0 647.8,1000.0 672.0,1000.0 696.2,1000.0 720.4,1000.0 744.6,1000.0 769.2,1000.0 793.8,1000.0 818.3,1000.0 842.9,996.0 867.0,995.4 891.2,996.0 915.4,995.8 939.5,995.5 963.6,996.5 987.6,996.5 1011.7,995.5 1035.8,995.9 1060.5,995.7 1085.2,965.5 1109.8,990.0 1134.5,995.8 1158.5,995.9 1182.6,996.0 1206.7,995.9 1230.7,996.1 1255.4,996.5 1280.2,996.5 1304.9,996.5 1329.6,996.4 1353.7,963.8 1377.8,995.7 1401.9,996.0 1426.0,996.2 1450.7,996.1 1475.5,995.8 1500.2,996.6 1524.9,995.8 1549.1,995.4 1573.3,995.5 1597.6,995.7 1621.8,996.3" fill="none" stroke="#ff5a4a" stroke-width="1.5" stroke-linejoin="round" stroke-linecap="butt" />
<polyline points="86.6,1000.0 110.7,1000.0 134.8,1000.0 158.9,1000.0 183.5,1000.0 208.1,1000.0 232.8,1000.0 257.4,1000.0 281.5,1000.0 305.7,1000.0 329.9,1000.0 354.0,1000.0 378.7,1000.0 403.4,1000.0 428.2,1000.0 452.9,1000.0 476.9,1000.0 500.9,1000.0 524.9,1000.0 548.9,1000.0 573.6,1000.0 598.3,1000.0 623.1,1000.0 647.8,1000.0 672.0,1000.0 696.2,1000.0 720.4,1000.0 744.6,1000.0 769.2,1000.0 793.8,1000.0 818.3,1000.0 842.9,996.4 867.0,995.5 891.2,995.7 915.4,995.7 939.5,996.3 963.6,996.5 987.6,995.7 1011.7,995.5 1035.8,996.6 1060.5,996.6 1085.2,996.3 1109.8,972.4 1134.5,996.3 1158.5,996.3 1182.6,996.0 1206.7,995.7 1230.7,996.0 1255.4,996.2 1280.2,995.8 1304.9,996.2 1329.6,995.6 1353.7,996.6 1377.8,995.7 1401.9,995.7 1426.0,971.4 1450.7,970.0 1475.5,996.5 1500.2,996.4 1524.9,996.4 1549.1,996.4 1573.3,996.1 1597.6,995.5 1621.8,996.3" fill="none" stroke="#ffa040" stroke-width="1.5" stroke-linejoin="round" stroke-linecap="butt" />
<polyline points="86.6,1000.0 110.7,1000.0 134.8,1000.0 158.9,1000.0 183.5,1000.0 208.1,1000.0 232.8,1000.0 257.4,1000.0 281.5,1000.0 305.7,1000.0 329.9,1000.0 354.0,1000.0 378.7,1000.0 403.4,1000.0 428.2,1000.0 452.9,1000.0 476.9,1000.0 500.9,1000.0 524.9,1000.0 548.9,1000.0 573.6,1000.0 598.3,1000.0 623.1,1000.0 647.8,1000.0 672.0,1000.0 696.2,1000.0 720.4,1000.0 744.6,1000.0 769.2,1000.0 793.8,1000.0 818.3,1000.0 842.9,996.4 867.0,996.4 891.2,995.5 915.4,995.5 939.5,996.3 963.6,996.0 987.6,996.5 1011.7,996.6 1035.8,995.9 1060.5,996.2 1085.2,996.2 1109.8,996.2 1134.5,977.6 1158.5,974.0 1182.6,985.0 1206.7,943.0 1230.7,986.0 1255.4,996.4 1280.2,996.0 1304.9,995.6 1329.6,995.9 1353.7,996.2 1377.8,996.1 1401.9,995.5 1426.0,995.4 1450.7,995.9 1475.5,995.7 1500.2,995.7 1524.9,995.7 1549.1,995.9 1573.3,996.2 1597.6,996.5 1621.8,996.2" fill="none" stroke="#ff5599" stroke-width="1.5" stroke-linejoin="round" stroke-linecap="butt" />
<polyline points="86.6,1000.0 110.7,1000.0 134.8,1000.0 158.9,1000.0 183.5,1000.0 208.1,1000.0 232.8,1000.0 257.4,1000.0 281.5,1000.0 305.7,1000.0 329.9,1000.0 354.0,1000.0 378.7,1000.0 403.4,1000.0 428.2,1000.0 452.9,1000.0 476.9,1000.0 500.9,1000.0 524.9,1000.0 548.9,1000.0 573.6,1000.0 598.3,1000.0 623.1,1000.0 647.8,1000.0 672.0,1000.0 696.2,1000.0 720.4,1000.0 744.6,1000.0 769.2,1000.0 793.8,1000.0 818.3,1000.0 842.9,995.4 867.0,996.4 891.2,996.1 915.4,996.3 939.5,996.1 963.6,995.8 987.6,995.8 1011.7,995.5 1035.8,996.2 1060.5,995.5 1085.2,996.2 1109.8,996.5 1134.5,996.2 1158.5,996.1 1182.6,996.4 1206.7,996.6 1230.7,996.4 1255.4,996.6 1280.2,996.0 1304.9,995.4 1329.6,996.1 1353.7,996.2 1377.8,996.4 1401.9,996.1 1426.0,995.8 1450.7,995.4 1475.5,996.4 1500.2,996.1 1524.9,996.6 1549.1,996.1 1573.3,996.4 1597.6,839.7 1621.8,996.6" fill="none" stroke="#ff8a3d" stroke-width="1.5" stroke-linejoin="round" stroke-linecap="butt" />
<polyline points="86.6,1000.0 110.7,1000.0 134.8,1000.0 158.9,1000.0 183.5,1000.0 208.1,1000.0 232.8,1000.0 257.4,1000.0 281.5,1000.0 305.7,992.0 329.9,1000.0 354.0,1000.0 378.7,1000.0 403.4,1000.0 428.2,1000.0 452.9,1000.0 476.9,1000.0 500.9,1000.0 524.9,1000.0 548.9,1000.0 573.6,1000.0 598.3,992.0 623.1,1000.0 647.8,1000.0 672.0,1000.0 696.2,1000.0 720.4,1000.0 744.6,1000.0 769.2,1000.0 793.8,993.7 818.3,1000.0 842.9,995.0 867.0,986.6 891.2,988.0 915.4,995.4 939.5,995.8 963.6,995.8 987.6,996.6 1011.7,995.9 1035.8,995.7 1060.5,996.2 1085.2,995.5 1109.8,995.8 1134.5,995.9 1158.5,995.5 1182.6,996.1 1206.7,995.9 1230.7,996.4 1255.4,995.8 1280.2,996.6 1304.9,995.6 1329.6,996.0 1353.7,995.7 1377.8,995.4 1401.9,995.8 1426.0,996.5 1450.7,995.7 1475.5,996.0 1500.2,996.0 1524.9,995.7 1549.1,996.0 1573.3,995.5 1597.6,995.8 1621.8,995.7" fill="none" stroke="#ff6070" stroke-width="1.5" stroke-linejoin="round" stroke-linecap="butt" />
<polyline points="86.6,1000.0 110.7,1000.0 134.8,1000.0 158.9,1000.0 183.5,1000.0 208.1,1000.0 232.8,1000.0 257.4,1000.0 281.5,1000.0 305.7,1000.0 329.9,1000.0 354.0,1000.0 378.7,1000.0 403.4,1000.0 428.2,1000.0 452.9,1000.0 476.9,1000.0 500.9,1000.0 524.9,1000.0 548.9,1000.0 573.6,1000.0 598.3,1000.0 623.1,1000.0 647.8,1000.0 672.0,1000.0 696.2,1000.0 720.4,1000.0 744.6,1000.0 769.2,1000.0 793.8,1000.0 818.3,1000.0 842.9,996.4 867.0,996.3 891.2,996.2 915.4,996.1 939.5,996.4 963.6,996.3 987.6,995.5 1011.7,995.6 1035.8,996.3 1060.5,996.4 1085.2,996.6 1109.8,996.3 1134.5,995.6 1158.5,996.1 1182.6,996.1 1206.7,996.1 1230.7,995.6 1255.4,996.6 1280.2,996.0 1304.9,995.7 1329.6,996.6 1353.7,995.9 1377.8,995.5 1401.9,996.2 1426.0,995.7 1450.7,995.7 1475.5,995.8 1500.2,996.1 1524.9,995.8 1549.1,996.2 1573.3,985.0 1597.6,990.0 1621.8,996.5" fill="none" stroke="#66ddee" stroke-width="1.5" stroke-linejoin="round" stroke-linecap="butt" />
<polyline points="86.6,394.3 110.7,392.2 134.8,368.5 158.9,370.0 183.5,379.3 208.1,382.0 232.8,376.0 257.4,382.0 281.5,386.4 305.7,389.8 329.9,382.0 354.0,383.0 378.7,386.0 403.4,390.0 428.2,376.4 452.9,370.3 476.9,369.5 500.9,370.3 524.9,361.7 548.9,365.0 573.6,369.5 598.3,375.5 623.1,371.2 647.8,381.6 672.0,385.9 696.2,388.4 720.4,374.7 744.6,374.7 769.2,370.5 793.8,371.4 818.3,366.2 842.9,374.8 867.0,381.7 891.2,380.0 915.4,372.2 939.5,370.0 963.6,367.2 987.6,367.2 1011.7,363.8 1035.8,363.0 1060.5,375.9 1085.2,381.9 1109.8,382.0 1134.5,386.0 1158.5,393.0 1182.6,395.5 1206.7,394.7 1230.7,400.7 1255.4,404.0 1280.2,412.0 1304.9,410.0 1329.6,414.5 1353.7,418.0 1377.8,416.0 1401.9,404.0 1426.0,405.0 1450.7,402.4 1475.5,400.7 1500.2,391.2 1524.9,402.4 1549.1,405.9 1573.3,410.2 1597.6,409.3 1621.8,408.4" fill="none" stroke="#1ec4c4" stroke-width="5.5" stroke-linejoin="round" stroke-linecap="square" />
<polyline points="86.6,291.0 110.7,312.4 134.8,288.7 158.9,307.4 183.5,321.8 208.1,370.0 232.8,359.6 257.4,397.6 281.5,416.6 305.7,433.8 329.9,432.0 354.0,416.6 378.7,372.6 403.4,397.0 428.2,356.6 452.9,363.4 476.9,375.5 500.9,378.0 524.9,368.6 548.9,403.0 573.6,422.0 598.3,472.0 623.1,488.6 647.8,488.6 672.0,488.6 696.2,456.0 720.4,387.6 744.6,387.0 769.2,404.0 793.8,454.0 818.3,423.0 842.9,440.0 867.0,464.5 891.2,480.3 915.4,437.4 939.5,436.0 963.6,460.0 987.6,498.0 1011.7,501.7 1035.8,508.6 1060.5,522.4 1085.2,525.9 1109.8,500.0 1134.5,523.0 1158.5,530.0 1182.6,524.8 1206.7,518.0 1230.7,528.0 1255.4,542.0 1280.2,521.4 1304.9,524.0 1329.6,531.7 1353.7,543.8 1377.8,539.5 1401.9,545.5 1426.0,547.0 1450.7,564.0 1475.5,567.4 1500.2,581.0 1524.9,583.4 1549.1,592.6 1573.3,572.0 1597.6,543.0 1621.8,516.8" fill="none" stroke="#ff22ff" stroke-width="7" stroke-linejoin="round" stroke-linecap="square" />
<polyline points="86.6,291.0 110.7,302.4 134.8,280.0 158.9,300.0 183.5,314.6 208.1,377.8 232.8,366.0 257.4,395.0 281.5,430.0 305.7,443.0 329.9,440.7 354.0,435.5 378.7,420.0 403.4,420.0 428.2,361.7 452.9,368.0 476.9,379.0 500.9,382.4 524.9,365.0 548.9,417.0 573.6,439.0 598.3,499.0 623.1,494.7 647.8,493.8 672.0,474.8 696.2,454.0 720.4,398.0 744.6,399.0 769.2,404.0 793.8,438.6 818.3,402.4 842.9,426.6 867.0,464.5 891.2,501.0 915.4,520.6 939.5,481.0 963.6,457.5 987.6,501.0 1011.7,420.7 1035.8,441.4 1060.5,470.7 1085.2,512.0 1109.8,477.6 1134.5,481.7 1158.5,479.0 1182.6,477.4 1206.7,416.2 1230.7,430.0 1255.4,457.6 1280.2,487.0 1304.9,443.8 1329.6,459.3 1353.7,473.0 1377.8,490.0 1401.9,488.6 1426.0,540.0 1450.7,572.0 1475.5,606.0 1500.2,634.0 1524.9,664.0 1549.1,654.7 1573.3,624.8 1597.6,593.8 1621.8,605.3" fill="none" stroke="#ffff00" stroke-width="5.5" stroke-linejoin="round" stroke-linecap="square" />
<polyline points="86.6,292.3 110.7,298.8 134.8,281.5 158.9,303.0 183.5,317.5 208.1,377.0 232.8,364.8 257.4,392.0 281.5,433.8 305.7,441.5 329.9,423.4 354.0,425.0 378.7,414.0 403.4,424.7 428.2,375.5 452.9,376.4 476.9,385.9 500.9,393.6 524.9,372.0 548.9,384.0 573.6,406.6 598.3,441.0 623.1,420.3 647.8,434.0 672.0,433.3 696.2,439.3 720.4,398.0 744.6,405.0 769.2,419.7 793.8,445.5 818.3,429.0 842.9,443.8 867.0,461.0 891.2,485.2 915.4,454.9 939.5,462.0 963.6,476.3 987.6,496.0 1011.7,479.3 1035.8,494.8 1060.5,506.9 1085.2,519.8 1109.8,515.5 1134.5,512.0 1158.5,519.7 1182.6,521.4 1206.7,509.3 1230.7,511.0 1255.4,512.8 1280.2,516.0 1304.9,499.0 1329.6,501.5 1353.7,512.8 1377.8,509.3 1401.9,487.0 1426.0,492.0 1450.7,495.5 1475.5,499.0 1500.2,481.7 1524.9,483.4 1549.1,483.4 1573.3,479.0 1597.6,460.2 1621.8,460.2" fill="none" stroke="#111" stroke-width="5" stroke-linejoin="round" stroke-linecap="square" />
<polyline points="86.6,1001.0 110.7,1001.0 134.8,1001.0 158.9,1001.0 183.5,1001.0 208.1,1001.0 232.8,1001.0 257.4,1001.0 281.5,1001.0 305.7,1001.0 329.9,1001.0 354.0,1001.0 378.7,1001.0 403.4,1001.0 428.2,1001.0 452.9,1001.0 476.9,1001.0 500.9,1001.0 524.9,1001.0 548.9,1001.0 573.6,1001.0 598.3,1001.0 623.1,1001.0 647.8,1001.0 672.0,1001.0 696.2,1001.0 720.4,1001.0 744.6,1001.0 769.2,1001.0 793.8,1001.0 818.3,1001.0 842.9,1001.0 867.0,1001.0 891.2,1001.0 915.4,1001.0 939.5,1001.0 963.6,1001.0 987.6,1001.0 1011.7,1001.0 1035.8,1001.0 1060.5,1001.0 1085.2,1001.0 1109.8,1001.0 1134.5,1001.0 1158.5,1001.0 1182.6,1001.0 1206.7,1001.0 1230.7,1001.0 1255.4,1001.0 1280.2,1001.0 1304.9,1001.0 1329.6,1001.0 1353.7,1001.0 1377.8,1001.0 1401.9,1001.0 1426.0,1001.0 1450.7,980.3 1475.5,991.4 1500.2,999.0 1524.9,999.0 1549.1,982.8 1573.3,919.0 1597.6,905.2 1621.8,995.0" fill="none" stroke="#ffff00" stroke-width="5" stroke-linejoin="round" stroke-linecap="butt" />
<polyline points="86.6,1001.0 110.7,1001.0 134.8,1001.0 158.9,1001.0 183.5,1001.0 208.1,1001.0 232.8,1001.0 257.4,1001.0 281.5,1001.0 305.7,1001.0 329.9,1001.0 354.0,1001.0 378.7,1001.0 403.4,1001.0 428.2,1001.0 452.9,1001.0 476.9,1001.0 500.9,1001.0 524.9,1001.0 548.9,1001.0 573.6,1001.0 598.3,1001.0 623.1,1001.0 647.8,1001.0 672.0,1001.0 696.2,1001.0 720.4,1001.0 744.6,1001.0 769.2,1001.0 793.8,1001.0 818.3,1001.0 842.9,998.0 867.0,994.8 891.2,994.0 915.4,994.8 939.5,997.0 963.6,998.0 987.6,1000.0 1011.7,999.8 1035.8,999.7 1060.5,999.5 1085.2,999.3 1109.8,999.2 1134.5,999.0 1158.5,992.0 1182.6,999.0 1206.7,999.0 1230.7,999.0 1255.4,999.0 1280.2,999.0 1304.9,999.0 1329.6,983.8 1353.7,995.0 1377.8,999.0 1401.9,996.5 1426.0,994.0 1450.7,991.0 1475.5,994.0 1500.2,998.0 1524.9,997.7 1549.1,997.3 1573.3,997.0 1597.6,993.0 1621.8,996.0" fill="none" stroke="#111" stroke-width="4" stroke-linejoin="round" stroke-linecap="butt" />
<polyline points="86.6,1001.5 110.7,1001.5 134.8,1001.5 158.9,1001.5 183.5,1001.5 208.1,1001.5 232.8,1001.5 257.4,1001.5 281.5,1001.5 305.7,1001.5 329.9,1001.5 354.0,1001.5 378.7,1001.5 403.4,1001.5 428.2,1001.5 452.9,1001.5 476.9,1001.5 500.9,1001.5 524.9,1001.5 548.9,1001.5 573.6,1001.5 598.3,1001.5 623.1,1001.5 647.8,1001.5 672.0,1001.5 696.2,1001.5 720.4,1001.5 744.6,1001.5 769.2,1001.5 793.8,1001.5 818.3,1001.5 842.9,1001.5 867.0,1001.5 891.2,1001.5 915.4,1001.5 939.5,1001.5 963.6,1001.5 987.6,1001.5 1011.7,1001.5 1035.8,1001.5 1060.5,1001.5 1085.2,1001.5 1109.8,1001.5 1134.5,1001.5 1158.5,1001.5 1182.6,1001.5 1206.7,1001.5 1230.7,1001.5 1255.4,1001.5 1280.2,1001.5 1304.9,1001.5 1329.6,1001.5 1353.7,1001.5 1377.8,1001.5 1401.9,1001.5 1426.0,1001.5 1450.7,1001.5 1475.5,1001.5 1500.2,1001.5 1524.9,1001.5 1549.1,1001.5 1573.3,1001.5 1597.6,1001.5 1621.8,1001.5" fill="none" stroke="#ff22ff" stroke-width="6.5" stroke-linejoin="round" stroke-linecap="butt" />
<line x1="61" y1="17" x2="1623" y2="17" stroke="#1a1a1a" stroke-width="2"/>
<line x1="61" y1="1002" x2="1623" y2="1002" stroke="#1a1a1a" stroke-width="2"/>
<line x1="62.5" y1="16" x2="62.5" y2="1003" stroke="#1a1a1a" stroke-width="3"/>
<line x1="1621.5" y1="16" x2="1621.5" y2="1003" stroke="#1a1a1a" stroke-width="2.6"/>
<line x1="1613" y1="977.4" x2="1621" y2="977.4" stroke="#1a1a1a" stroke-width="1.6"/>
<line x1="1608" y1="952.8" x2="1621" y2="952.8" stroke="#1a1a1a" stroke-width="1.6"/>
<line x1="1613" y1="928.2" x2="1621" y2="928.2" stroke="#1a1a1a" stroke-width="1.6"/>
<line x1="1608" y1="903.6" x2="1621" y2="903.6" stroke="#1a1a1a" stroke-width="1.6"/>
<line x1="1613" y1="879.0" x2="1621" y2="879.0" stroke="#1a1a1a" stroke-width="1.6"/>
<line x1="1608" y1="854.4" x2="1621" y2="854.4" stroke="#1a1a1a" stroke-width="1.6"/>
<line x1="1613" y1="829.8" x2="1621" y2="829.8" stroke="#1a1a1a" stroke-width="1.6"/>
<line x1="1608" y1="805.2" x2="1621" y2="805.2" stroke="#1a1a1a" stroke-width="1.6"/>
<line x1="1613" y1="780.6" x2="1621" y2="780.6" stroke="#1a1a1a" stroke-width="1.6"/>
<line x1="1608" y1="756.0" x2="1621" y2="756.0" stroke="#1a1a1a" stroke-width="1.6"/>
<line x1="1613" y1="731.4" x2="1621" y2="731.4" stroke="#1a1a1a" stroke-width="1.6"/>
<line x1="1608" y1="706.8" x2="1621" y2="706.8" stroke="#1a1a1a" stroke-width="1.6"/>
<line x1="1613" y1="682.2" x2="1621" y2="682.2" stroke="#1a1a1a" stroke-width="1.6"/>
<line x1="1608" y1="657.6" x2="1621" y2="657.6" stroke="#1a1a1a" stroke-width="1.6"/>
<line x1="1613" y1="633.0" x2="1621" y2="633.0" stroke="#1a1a1a" stroke-width="1.6"/>
<line x1="1608" y1="608.4" x2="1621" y2="608.4" stroke="#1a1a1a" stroke-width="1.6"/>
<line x1="1613" y1="583.8" x2="1621" y2="583.8" stroke="#1a1a1a" stroke-width="1.6"/>
<line x1="1608" y1="559.2" x2="1621" y2="559.2" stroke="#1a1a1a" stroke-width="1.6"/>
<line x1="1613" y1="534.6" x2="1621" y2="534.6" stroke="#1a1a1a" stroke-width="1.6"/>
<line x1="1608" y1="510.0" x2="1621" y2="510.0" stroke="#1a1a1a" stroke-width="1.6"/>
<line x1="1613" y1="485.4" x2="1621" y2="485.4" stroke="#1a1a1a" stroke-width="1.6"/>
<line x1="1608" y1="460.8" x2="1621" y2="460.8" stroke="#1a1a1a" stroke-width="1.6"/>
<line x1="1613" y1="436.2" x2="1621" y2="436.2" stroke="#1a1a1a" stroke-width="1.6"/>
<line x1="1608" y1="411.6" x2="1621" y2="411.6" stroke="#1a1a1a" stroke-width="1.6"/>
<line x1="1613" y1="387.0" x2="1621" y2="387.0" stroke="#1a1a1a" stroke-width="1.6"/>
<line x1="1608" y1="362.4" x2="1621" y2="362.4" stroke="#1a1a1a" stroke-width="1.6"/>
<line x1="1613" y1="337.8" x2="1621" y2="337.8" stroke="#1a1a1a" stroke-width="1.6"/>
<line x1="1608" y1="313.2" x2="1621" y2="313.2" stroke="#1a1a1a" stroke-width="1.6"/>
<line x1="1613" y1="288.6" x2="1621" y2="288.6" stroke="#1a1a1a" stroke-width="1.6"/>
<line x1="1608" y1="264.0" x2="1621" y2="264.0" stroke="#1a1a1a" stroke-width="1.6"/>
<line x1="1613" y1="239.4" x2="1621" y2="239.4" stroke="#1a1a1a" stroke-width="1.6"/>
<line x1="1608" y1="214.8" x2="1621" y2="214.8" stroke="#1a1a1a" stroke-width="1.6"/>
<line x1="1613" y1="190.2" x2="1621" y2="190.2" stroke="#1a1a1a" stroke-width="1.6"/>
<line x1="1608" y1="165.6" x2="1621" y2="165.6" stroke="#1a1a1a" stroke-width="1.6"/>
<line x1="1613" y1="141.0" x2="1621" y2="141.0" stroke="#1a1a1a" stroke-width="1.6"/>
<line x1="1608" y1="116.4" x2="1621" y2="116.4" stroke="#1a1a1a" stroke-width="1.6"/>
<line x1="1613" y1="91.8" x2="1621" y2="91.8" stroke="#1a1a1a" stroke-width="1.6"/>
<line x1="1608" y1="67.2" x2="1621" y2="67.2" stroke="#1a1a1a" stroke-width="1.6"/>
<line x1="1613" y1="42.6" x2="1621" y2="42.6" stroke="#1a1a1a" stroke-width="1.6"/>
<text transform="translate(40.5,22.0) scale(1.18,1)" text-anchor="end" style="font-family:'DejaVu Sans',sans-serif;font-size:20px;fill:#111;stroke:#111;stroke-width:0.45px;letter-spacing:1.5px">25</text>
<text transform="translate(40.5,131.6) scale(1.18,1)" text-anchor="end" style="font-family:'DejaVu Sans',sans-serif;font-size:20px;fill:#111;stroke:#111;stroke-width:0.45px;letter-spacing:1.5px">20</text>
<text transform="translate(40.5,240.8) scale(1.18,1)" text-anchor="end" style="font-family:'DejaVu Sans',sans-serif;font-size:20px;fill:#111;stroke:#111;stroke-width:0.45px;letter-spacing:1.5px">15</text>
<text transform="translate(40.5,350.7) scale(1.18,1)" text-anchor="end" style="font-family:'DejaVu Sans',sans-serif;font-size:20px;fill:#111;stroke:#111;stroke-width:0.45px;letter-spacing:1.5px">10</text>
<text transform="translate(40.5,460.7) scale(1.18,1)" text-anchor="end" style="font-family:'DejaVu Sans',sans-serif;font-size:20px;fill:#111;stroke:#111;stroke-width:0.45px;letter-spacing:1.5px">5</text>
<text transform="translate(40.5,568.4) scale(1.18,1)" text-anchor="end" style="font-family:'DejaVu Sans',sans-serif;font-size:20px;fill:#111;stroke:#111;stroke-width:0.45px;letter-spacing:1.5px">0</text>
<text transform="translate(40.5,677.9) scale(1.18,1)" text-anchor="end" style="font-family:'DejaVu Sans',sans-serif;font-size:20px;fill:#111;stroke:#111;stroke-width:0.45px;letter-spacing:1.5px">-5</text>
<text transform="translate(40.5,787.8) scale(1.18,1)" text-anchor="end" style="font-family:'DejaVu Sans',sans-serif;font-size:20px;fill:#111;stroke:#111;stroke-width:0.45px;letter-spacing:1.5px">-10</text>
<text transform="translate(40.5,896.7) scale(1.18,1)" text-anchor="end" style="font-family:'DejaVu Sans',sans-serif;font-size:20px;fill:#111;stroke:#111;stroke-width:0.45px;letter-spacing:1.5px">-15</text>
<text transform="translate(40.5,1006.5) scale(1.18,1)" text-anchor="end" style="font-family:'DejaVu Sans',sans-serif;font-size:20px;fill:#111;stroke:#111;stroke-width:0.45px;letter-spacing:1.5px">-20</text>
<text transform="translate(1637,21.5) scale(1.15,1)" style="font-family:'DejaVu Sans',sans-serif;font-size:20px;fill:#111;stroke:#111;stroke-width:0.45px;letter-spacing:1.5px;letter-spacing:1px">40</text>
<text transform="translate(1637,267.5) scale(1.15,1)" style="font-family:'DejaVu Sans',sans-serif;font-size:20px;fill:#111;stroke:#111;stroke-width:0.45px;letter-spacing:1.5px;letter-spacing:1px">30</text>
<text transform="translate(1637,513.5) scale(1.15,1)" style="font-family:'DejaVu Sans',sans-serif;font-size:20px;fill:#111;stroke:#111;stroke-width:0.45px;letter-spacing:1.5px;letter-spacing:1px">20</text>
<text transform="translate(1637,759.5) scale(1.15,1)" style="font-family:'DejaVu Sans',sans-serif;font-size:20px;fill:#111;stroke:#111;stroke-width:0.45px;letter-spacing:1.5px;letter-spacing:1px">10</text>
<text transform="translate(1637,1006.0) scale(1.15,1)" style="font-family:'DejaVu Sans',sans-serif;font-size:20px;fill:#111;stroke:#111;stroke-width:0.45px;letter-spacing:1.5px;letter-spacing:1px">0</text>
<text transform="translate(60.0,1033) scale(1.125,1)" text-anchor="middle" style="font-family:'DejaVu Sans',sans-serif;font-size:20px;fill:#111;stroke:#111;stroke-width:0.45px;letter-spacing:1.5px">29Oct 00z</text>
<text transform="translate(254.9,1033) scale(1.125,1)" text-anchor="middle" style="font-family:'DejaVu Sans',sans-serif;font-size:20px;fill:#111;stroke:#111;stroke-width:0.45px;letter-spacing:1.5px">31Oct 00z</text>
<text transform="translate(450.4,1033) scale(1.125,1)" text-anchor="middle" style="font-family:'DejaVu Sans',sans-serif;font-size:20px;fill:#111;stroke:#111;stroke-width:0.45px;letter-spacing:1.5px">02Nov 00z</text>
<text transform="translate(645.3,1033) scale(1.125,1)" text-anchor="middle" style="font-family:'DejaVu Sans',sans-serif;font-size:20px;fill:#111;stroke:#111;stroke-width:0.45px;letter-spacing:1.5px">04Nov 00z</text>
<text transform="translate(840.4,1033) scale(1.125,1)" text-anchor="middle" style="font-family:'DejaVu Sans',sans-serif;font-size:20px;fill:#111;stroke:#111;stroke-width:0.45px;letter-spacing:1.5px">06Nov 00z</text>
<text transform="translate(1033.3,1033) scale(1.125,1)" text-anchor="middle" style="font-family:'DejaVu Sans',sans-serif;font-size:20px;fill:#111;stroke:#111;stroke-width:0.45px;letter-spacing:1.5px">08Nov 00z</text>
<text transform="translate(1228.2,1033) scale(1.125,1)" text-anchor="middle" style="font-family:'DejaVu Sans',sans-serif;font-size:20px;fill:#111;stroke:#111;stroke-width:0.45px;letter-spacing:1.5px">10Nov 00z</text>
<text transform="translate(1423.5,1033) scale(1.125,1)" text-anchor="middle" style="font-family:'DejaVu Sans',sans-serif;font-size:20px;fill:#111;stroke:#111;stroke-width:0.45px;letter-spacing:1.5px">12Nov 00z</text>
<text transform="translate(1619.3,1033) scale(1.125,1)" text-anchor="middle" style="font-family:'DejaVu Sans',sans-serif;font-size:20px;fill:#111;stroke:#111;stroke-width:0.45px;letter-spacing:1.5px">14Nov 00z</text>
<text transform="translate(1694,603.5) rotate(-90)" x="0" y="0" textLength="180" lengthAdjust="spacingAndGlyphs" style="font-family:'DejaVu Sans',sans-serif;font-size:20px;fill:#111">Precipitation (mm)</text>
<g fill="#00ffff">
<polygon points="865.3,236 871.6,236 871.6,336 865.3,336"/>
<polygon points="844.9,323.3 850.5,323.3 865.2,335.3 871.6,335.3 886.7,323.6 892.3,323.6 868.2,382.5"/>
</g>
<text id="c1" transform="matrix(1.352,0,0,1,-189.4,0)" x="539.5" y="159" style="font-family:'Liberation Serif',serif;font-size:65px;fill:#00ffff;stroke:#00ffff;stroke-width:1.3">Κανονικές Τιμές</text>
<text id="c2" transform="matrix(1.3445,0,0,1,-200.2,0)" x="581" y="234.5" style="font-family:'Liberation Serif',serif;font-size:65px;fill:#00ffff;stroke:#00ffff;stroke-width:1.3">Θερμοκρασίας</text>
<g fill="#222">
<polygon points="933.3,517 939.1,517 935.7,634 929.7,634" />
<polygon points="937.5,470 959.9,530.4 954.4,530 939.1,518.6 933.3,518.6 918.8,529.3 912.6,529.3"/>
</g>
<text id="b1" x="641" y="678.8" style="font-family:'Liberation Serif',serif;font-size:57.5px;fill:#000">Προβλεπόμενες Τιμές</text>
<text id="b2" x="729" y="740.8" style="font-family:'Liberation Serif',serif;font-size:57.5px;fill:#000">Θερμοκρασίας</text>
<text id="one" transform="translate(1372.7,247.7) scale(1.74,1)" x="0" y="0" style="font-family:'Liberation Serif',serif;font-size:260px;fill:#222">1</text>
</svg>
</body></html>
